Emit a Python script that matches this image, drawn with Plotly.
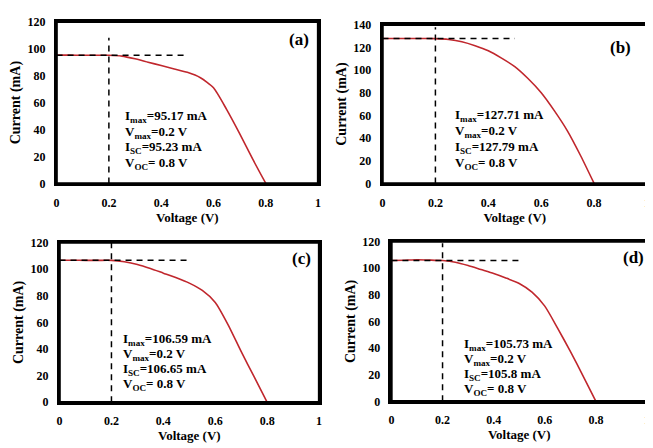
import plotly.graph_objects as go

voltage = [0, 0.05, 0.1, 0.15, 0.2, 0.25, 0.3, 0.35, 0.4, 0.45, 0.5, 0.55, 0.6, 0.65, 0.7, 0.75, 0.8]
current_a = [95.23, 95.22, 95.2, 95.19, 95.17, 94.5, 92.5, 90, 87.5, 85, 82.5, 78.5, 71, 55, 37, 18, 0]
current_b = [127.79, 127.78, 127.77, 127.75, 127.71, 127, 125, 121.5, 117, 110.5, 103, 92.5, 80, 64, 46, 24, 0]
current_c = [106.65, 106.64, 106.62, 106.6, 106.59, 105.5, 103.5, 100.5, 97, 93.5, 89.5, 84, 75, 58, 38, 19, 0]
current_d = [105.8, 106.0, 106.3, 106.1, 105.73, 104.5, 102, 99, 96, 92.5, 88.5, 82, 71.5, 55, 37.5, 19, 0]

panel_labels = ["(a)", "(b)", "(c)", "(d)"]
i_max = [95.17, 127.71, 106.59, 105.73]
v_max = [0.2, 0.2, 0.2, 0.2]
i_sc = [95.23, 127.79, 106.65, 105.8]
v_oc = [0.8, 0.8, 0.8, 0.8]
y_max = [120, 140, 120, 120]
x_tick_vals = [0, 0.2, 0.4, 0.6, 0.8, 1]
x_tick_text = ["0", "0.2", "0.4", "0.6", "0.8", "1"]

series = [current_a, current_b, current_c, current_d]

W, H = 645, 440
OFF = 8  # page body margin offset
# plot-area boxes in page pixels: (left, right, top, bottom)
boxes = [(54, 318, 15, 182), (383, 650, 18, 182), (57, 319, 243, 408), (392, 650, 242, 407)]
# text block: left px, first-line centre px, line spacing px
text_px = [(121, 113, 16), (454, 112, 16.3), (119, 343, 15.5), (463, 348, 15.5)]
label_pos = [(0.927, 107), (0.9, 120), (0.934, 108), (0.946, 108)]

FONT = "Liberation Serif"
fig = go.Figure()
layout = dict(
    width=W, height=H,
    margin=dict(l=0, r=0, t=0, b=0),
    paper_bgcolor="white", plot_bgcolor="white",
    showlegend=False,
    font=dict(family=FONT, size=12, color="black"),
    annotations=[], shapes=[],
)

def px_x(p):
    return (p - OFF) / W

def px_y(p):
    return 1 - (p - OFF) / H

for k in range(4):
    n = "" if k == 0 else str(k + 1)
    xa, ya = "x" + n, "y" + n
    l, r, t, b = boxes[k]
    fig.add_trace(go.Scatter(
        x=voltage, y=series[k], mode="lines",
        line=dict(color="#C0272D", width=1.6, shape="spline", smoothing=0.6),
        xaxis=xa, yaxis=ya, hoverinfo="skip"))
    fig.add_trace(go.Scatter(
        x=[0, 0.5], y=[i_max[k], i_max[k]], mode="lines",
        line=dict(color="black", width=1.5, dash="6px,5px"),
        xaxis=xa, yaxis=ya))
    fig.add_trace(go.Scatter(
        x=[v_max[k], v_max[k]], y=[0, i_max[k] + (10 if k == 1 else 13)], mode="lines",
        line=dict(color="black", width=1.5, dash="6px,5px"),
        xaxis=xa, yaxis=ya))

    layout["xaxis" + n] = dict(
        domain=[px_x(l), px_x(r)], anchor=ya, range=[0, 1],
        tickvals=x_tick_vals, ticktext=x_tick_text,
        showline=True, mirror="all", linecolor="black", linewidth=2.5,
        showgrid=False, zeroline=False, ticks="",
        ticklabelstandoff=6,
        tickfont=dict(family=FONT, size=12, color="black", weight="bold"),
        title=dict(text="<b>Voltage (V)</b>", font=dict(family=FONT, size=13), standoff=2),
    )
    layout["yaxis" + n] = dict(
        domain=[px_y(b), px_y(t)], anchor=xa, range=[0, y_max[k]],
        dtick=20, tick0=0,
        showline=True, mirror="all", linecolor="black", linewidth=2.5,
        showgrid=False, zeroline=False, ticks="",
        ticklabelstandoff=6,
        tickfont=dict(family=FONT, size=12, color="black", weight="bold"),
        title=dict(text="<b>Current (mA)</b>", font=dict(family=FONT, size=14), standoff=4),
    )
    # explicit frame around the plot area
    layout["shapes"].append(dict(
        type="rect", xref="paper", yref="paper",
        x0=px_x(l), x1=px_x(r), y0=px_y(b), y1=px_y(t),
        line=dict(color="black", width=2.5), fillcolor="rgba(0,0,0,0)", layer="above"))
    lines = [f"<b>I<sub>max</sub>={i_max[k]} mA</b>",
             f"<b>V<sub>max</sub>={v_max[k]} V</b>",
             f"<b>I<sub>SC</sub>={i_sc[k]} mA</b>",
             f"<b>V<sub>OC</sub>= {v_oc[k]} V</b>"]
    tx, ty, dy = text_px[k]
    for j, s in enumerate(lines):
        layout["annotations"].append(dict(
            x=px_x(tx), y=px_y(ty + j * dy), xref="paper", yref="paper",
            text=s, showarrow=False, xanchor="left", yanchor="middle", align="left",
            font=dict(family=FONT, size=13, color="black")))
    layout["annotations"].append(dict(
        x=label_pos[k][0], y=label_pos[k][1], xref=xa, yref=ya,
        text="<b>" + panel_labels[k] + "</b>", showarrow=False,
        xanchor="center", yanchor="middle",
        font=dict(family=FONT, size=17, color="black")))

fig.update_layout(**layout)
fig.write_html("out.html")
